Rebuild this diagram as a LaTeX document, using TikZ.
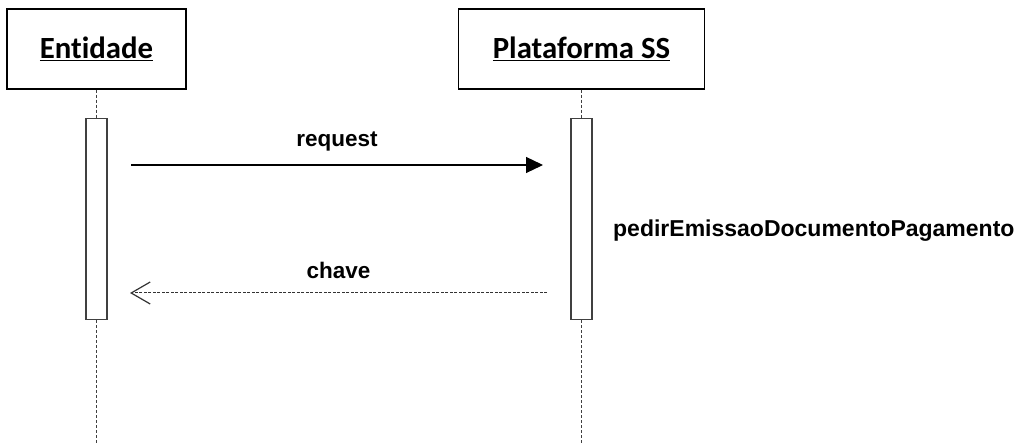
\documentclass[tikz,border=0pt]{standalone}
\usepackage{fontspec}
\setmainfont{Liberation Sans}
\newfontfamily\hdrfont[Ligatures=NoCommon]{Carlito}
\usetikzlibrary{positioning,arrows.meta}

\begin{document}
\begin{tikzpicture}[x=1pt,y=-1pt,%
	head node/.style={
		rectangle,
		draw,
		line width=1.5pt,
		minimum height=80pt,
		inner sep=0pt,
		font=\hdrfont\bfseries\fontsize{30.8}{36}\selectfont,
		align=center
	},
	bar node/.style={
		rectangle,
		draw=black!75,
		fill=white,
		line width=1.3pt,
		minimum width=21pt,
		minimum height=201pt,
		inner sep=0pt
	},
	life line/.style={
		draw=black!75,
		line width=1pt,
		dash pattern=on 3pt off 2pt
	},
	msg label/.style={
		font=\bfseries\fontsize{22.5}{26}\selectfont
	},
]
	\useasboundingbox (0,0) rectangle (1027,443);
	\node[head node, minimum width=179pt] (1) at (96.5,49) {\underline{Entidade}};
	\node[head node, minimum width=246pt] (2) [right = 271pt of 1] {\underline{Plataforma SS}};
	\node[bar node] (3) [below = 28pt of 1] {};
	\node[bar node] (4) [below = 28pt of 2] {};
	\coordinate (5) at (1.south |- 0,443);
	\coordinate (6) at (2.south |- 0,443);
	\path[life line]
	(1.south) -- (3.north)
	(3.south) -- (5)
	(2.south) -- (4.north)
	(4.south) -- (6);
	% messages
	\coordinate (r1) at (131,165);
	\coordinate (r2) at (543,165);
	\coordinate (c1) at (547,293);
	\coordinate (c2) at (130,293);
	\path[draw,line width=1.2pt,-{Triangle[length=17pt,width=16pt]}]
	(r1) -- node [msg label,above=10pt] {request} (r2);
	\path[draw,black!80,line width=1pt,dash pattern=on 3pt off 1.5pt,-{Straight Barb[length=19pt,width=22pt,line width=1.2pt]}]
	(c1) -- node [msg label,above=10pt,black] {chave} (c2);
	\node[msg label,font=\bfseries\fontsize{23}{27}\selectfont] (7) [right = 17pt of 4, yshift=-12pt] {pedirEmissaoDocumentoPagamento};
\end{tikzpicture}
\end{document}
